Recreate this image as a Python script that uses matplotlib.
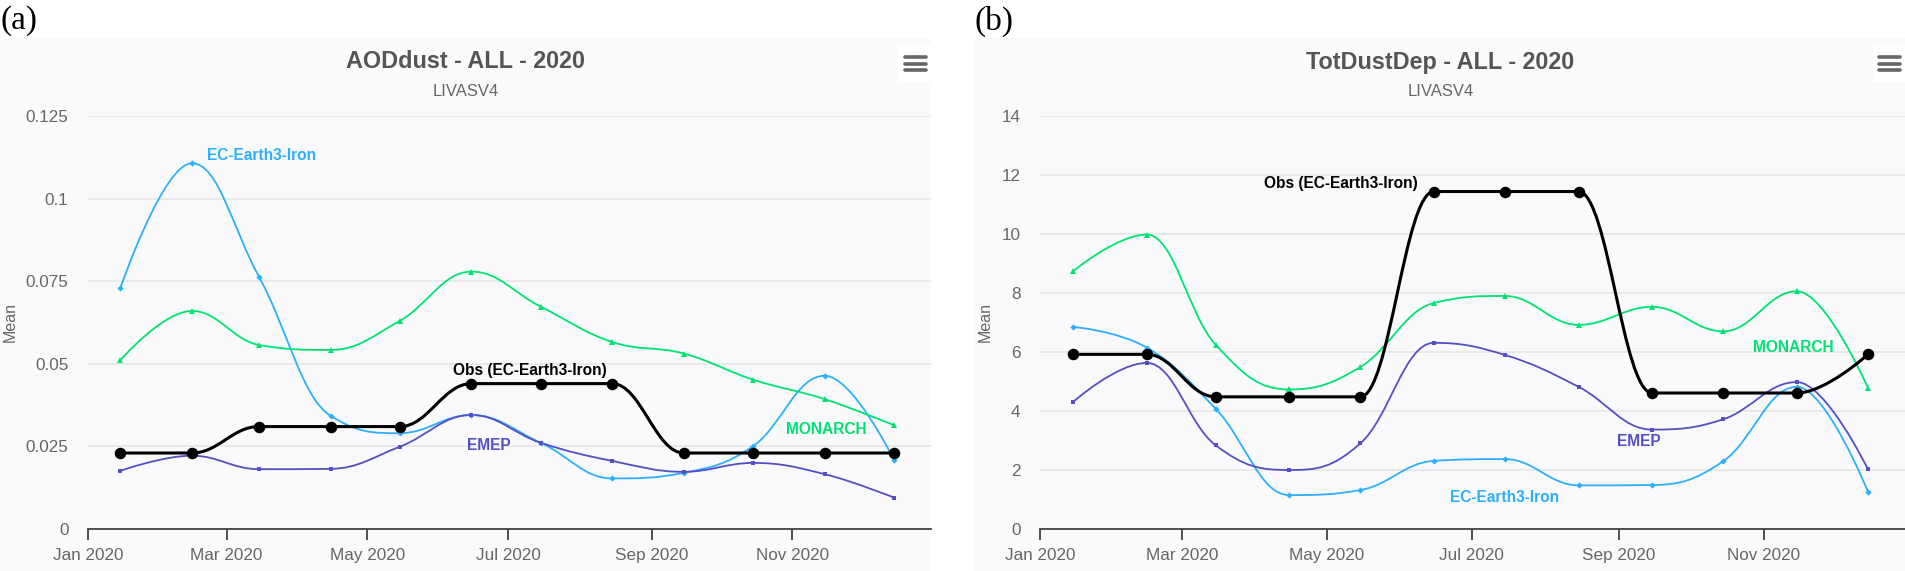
import datetime as dt
import matplotlib
matplotlib.use("Agg")
import matplotlib.pyplot as plt
import matplotlib.dates as mdates
from matplotlib.path import Path
from matplotlib.patches import PathPatch, Rectangle

# ---------------- data ----------------
months = list(range(1, 13))
tick_months = [1, 3, 5, 7, 9, 11]
tick_labels = ["Jan 2020", "Mar 2020", "May 2020", "Jul 2020", "Sep 2020", "Nov 2020"]

# Panel (a) AODdust
a_obs = [0.023, 0.023, 0.031, 0.031, 0.031, 0.044, 0.044, 0.044, 0.023, 0.023, 0.023, 0.023]
a_ec = [0.0729, 0.1107, 0.0764, 0.0343, 0.0290, 0.0345, 0.0261, 0.0153, 0.0170, 0.0251, 0.0464, 0.0209]
a_emep = [0.0176, 0.0222, 0.0181, 0.0182, 0.0249, 0.0345, 0.0261, 0.0206, 0.0173, 0.0200, 0.0166, 0.0095]
a_monarch = [0.0511, 0.0660, 0.0557, 0.0542, 0.0630, 0.0779, 0.0673, 0.0566, 0.0531, 0.0452, 0.0393, 0.0314]
a_yticks = [0, 0.025, 0.05, 0.075, 0.1, 0.125]
a_ylabels = ["0", "0.025", "0.05", "0.075", "0.1", "0.125"]

# Panel (b) TotDustDep
b_obs = [5.92, 5.92, 4.48, 4.48, 4.48, 11.44, 11.44, 11.44, 4.61, 4.61, 4.61, 5.92]
b_ec = [6.85, 6.15, 4.08, 1.15, 1.32, 2.31, 2.37, 1.48, 1.49, 2.30, 4.82, 1.26]
b_emep = [4.31, 5.63, 2.84, 2.00, 2.90, 6.31, 5.90, 4.82, 3.37, 3.72, 4.98, 2.02]
b_monarch = [8.74, 9.98, 6.25, 4.73, 5.49, 7.66, 7.90, 6.92, 7.53, 6.70, 8.06, 4.78]
b_yticks = [0, 2, 4, 6, 8, 10, 12, 14]
b_ylabels = ["0", "2", "4", "6", "8", "10", "12", "14"]

series_names = ["Obs (EC-Earth3-Iron)", "EC-Earth3-Iron", "EMEP", "MONARCH"]
titles = ["AODdust - ALL - 2020", "TotDustDep - ALL - 2020"]
subtitle = "LIVASV4"
ylabel = "Mean"

# ---------------- style ----------------
W, H = 1906, 571
C_EC = "#2caffe"
C_EMEP = "#544fc5"
C_MON = "#00e272"
C_OBS = "#000000"
BG = "#fafafc"
FONT = "Liberation Sans"


def px(x, y):
    return x / W, 1 - y / H


def hc_spline(xs, ys, smoothing=1.5):
    denom = smoothing + 1
    n = len(xs)
    lc = [None] * n
    rc = [None] * n
    for i in range(1, n - 1):
        pxx, pyy = xs[i], ys[i]
        lx, ly = xs[i - 1], ys[i - 1]
        nx, ny = xs[i + 1], ys[i + 1]
        lcx = (smoothing * pxx + lx) / denom
        lcy = (smoothing * pyy + ly) / denom
        rcx = (smoothing * pxx + nx) / denom
        rcy = (smoothing * pyy + ny) / denom
        corr = 0.0
        if rcx != lcx:
            corr = (rcy - lcy) * (rcx - pxx) / (rcx - lcx) + pyy - rcy
        lcy += corr
        rcy += corr
        if lcy > ly and lcy > pyy:
            lcy = max(ly, pyy); rcy = 2 * pyy - lcy
        elif lcy < ly and lcy < pyy:
            lcy = min(ly, pyy); rcy = 2 * pyy - lcy
        if rcy > ny and rcy > pyy:
            rcy = max(ny, pyy); lcy = 2 * pyy - rcy
        elif rcy < ny and rcy < pyy:
            rcy = min(ny, pyy); lcy = 2 * pyy - rcy
        lc[i] = (lcx, lcy)
        rc[i] = (rcx, rcy)
    verts = [(xs[0], ys[0])]
    codes = [Path.MOVETO]
    for i in range(1, n):
        c1 = rc[i - 1] if rc[i - 1] is not None else (xs[i - 1], ys[i - 1])
        c2 = lc[i] if lc[i] is not None else (xs[i], ys[i])
        verts += [c1, c2, (xs[i], ys[i])]
        codes += [Path.CURVE4] * 3
    return Path(verts, codes)


fig = plt.figure(figsize=(W / 100, H / 100), dpi=100)
fig.patch.set_facecolor("white")

xdates = [mdates.date2num(dt.datetime(2020, m, 15)) for m in months]
xticks = [mdates.date2num(dt.datetime(2020, m, 1)) for m in tick_months]
xmin = mdates.date2num(dt.datetime(2020, 1, 1))
xmax = mdates.date2num(dt.datetime(2020, 12, 31))


def panel(bg_x0, bg_x1, ax_x0, ax_x1, letter, title, data, yticks, ylabels, ymax,
          labels, menu_x, button_x0):
    # panel background
    fig.patches.append(Rectangle(px(bg_x0, H), (bg_x1 - bg_x0) / W, (H - 38) / H,
                                 transform=fig.transFigure, facecolor=BG,
                                 edgecolor="none", zorder=-2))
    # menu button
    fig.patches.append(Rectangle(px(button_x0, 82), (bg_x1 - button_x0) / W, 37 / H,
                                 transform=fig.transFigure, facecolor="#ffffff",
                                 edgecolor="none", zorder=-1))
    for yy in (57, 63.5, 70):
        fig.add_artist(plt.Line2D([menu_x / W, (menu_x + 21) / W], [1 - yy / H, 1 - yy / H],
                                  transform=fig.transFigure, color="#666666", lw=2.6,
                                  solid_capstyle="round", zorder=1))
    fig.text(*px(bg_x0, 21), letter, fontsize=24, family="Liberation Serif",
             ha="left", va="center", color="black")
    cx = (bg_x0 + bg_x1) / 2
    fig.text(*px(cx, 62), title, fontsize=16.8, fontweight="bold", family=FONT,
             color="#555555", ha="center", va="center")
    fig.text(*px(cx, 91), subtitle, fontsize=12, family=FONT, color="#666666",
             ha="center", va="center")
    fig.text(*px(bg_x0 + 10, 322), ylabel, fontsize=11.5, family=FONT, color="#666666",
             ha="center", va="center", rotation=90)

    ax = fig.add_axes([ax_x0 / W, (H - 529) / H, (ax_x1 - ax_x0) / W, 413 / H])
    ax.set_zorder(1)
    ax.set_facecolor("none")
    ax.set_xlim(xmin, xmax)
    ax.set_ylim(0, ymax)
    for s in ("top", "right", "left"):
        ax.spines[s].set_visible(False)
    ax.spines["bottom"].set_color("#333333")
    ax.spines["bottom"].set_linewidth(1.2)
    ax.set_yticks(yticks)
    ax.set_yticklabels(ylabels)
    ax.set_xticks(xticks)
    ax.set_xticklabels(tick_labels)
    ax.tick_params(axis="y", length=0, pad=14, labelsize=12.3, labelcolor="#666666")
    ax.tick_params(axis="x", length=8, width=1.2, color="#333333", direction="out",
                   pad=6, labelsize=12.3, labelcolor="#666666")
    for lab in ax.get_xticklabels() + ax.get_yticklabels():
        lab.set_family(FONT)
    ax.yaxis.grid(True, color="#e6e6e6", lw=1.2, zorder=0)
    ax.set_axisbelow(True)

    obs, ec, emep, mon = data
    specs = [
        (ec, C_EC, "D", 3.2, 1.3, 3),
        (emep, C_EMEP, "s", 3.4, 1.3, 3),
        (mon, C_MON, "^", 3.8, 1.3, 3),
        (obs, C_OBS, "o", 8.3, 2.2, 4),
    ]
    for ys, col, mk, ms, lw, z in specs:
        path = hc_spline(xdates, ys)
        ax.add_patch(PathPatch(path, fill=False, edgecolor=col, lw=lw, zorder=z,
                               capstyle="round", joinstyle="round"))
        ax.plot(xdates, ys, linestyle="none", marker=mk, ms=ms, color=col,
                markeredgewidth=0, zorder=z + 0.1)

    cols = [C_OBS, C_EC, C_EMEP, C_MON]
    for name, col, (lx, ly) in zip(series_names, cols, labels):
        fig.text(*px(lx, ly), name, fontsize=11.2, fontweight="bold", family=FONT,
                 color=col, ha="left", va="center", zorder=6)
    return ax


panel(0, 931, 88, 931, "(a)", titles[0], (a_obs, a_ec, a_emep, a_monarch),
      a_yticks, a_ylabels, 0.125,
      [(453, 371), (207, 156), (467, 445), (786, 430)], 905, 898)
panel(975, 1906, 1040, 1906, "(b)", titles[1], (b_obs, b_ec, b_emep, b_monarch),
      b_yticks, b_ylabels, 14,
      [(1264, 184), (1450, 497), (1617, 442), (1753, 347)], 1879, 1873)

fig.savefig("out.png", dpi=100)
